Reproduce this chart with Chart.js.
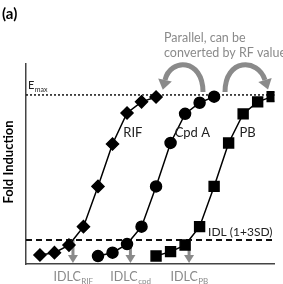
<!DOCTYPE html>
<html>
<head>
<meta charset="utf-8">
<script src="https://cdn.jsdelivr.net/npm/chart.js@4/dist/chart.umd.min.js"></script>
<style>
  html, body { margin: 0; padding: 0; background: #fff; }
  #wrap { position: relative; width: 283px; height: 284px; }
</style>
</head>
<body>
<div id="wrap"><canvas id="chart"></canvas></div>
<script>
// log-concentration steps (evenly spaced on the x axis)
const rifX = [0, 1, 2, 3, 4, 5, 6, 7, 8];
const cpdX = [4, 5, 6, 7, 8, 9, 10, 11, 12];
const pbX = [8, 9, 10, 11, 12, 13, 14, 15, 16];

// fold induction (Emax = 10)
const rifY = [0.53, 0.67, 1.12, 2.21, 4.59, 7.10, 8.93, 9.59, 9.88];
const cpdY = [0.47, 0.67, 1.18, 2.21, 4.59, 7.16, 8.88, 9.54, 9.90];
const pbY = [0.47, 0.73, 1.12, 2.21, 4.59, 7.16, 8.88, 9.59, 9.90];

const seriesNames = ['RIF', 'Cpd A', 'PB'];
const idlcSubs = ['RIF', 'cpd', 'PB'];
const emax = 10;
const idl = 1.42;

const FONT = 'Lato, "Open Sans", sans-serif';
const GREY = '#8a8a8a';

function pairs(xs, ys) {
  return xs.map((x, i) => ({ x, y: ys[i] }));
}

// where a series crosses the IDL line
function crossIdl(xs, ys) {
  for (let i = 1; i < ys.length; i++) {
    if (ys[i - 1] <= idl && ys[i] >= idl) {
      const f = (idl - ys[i - 1]) / (ys[i] - ys[i - 1]);
      return xs[i - 1] + f * (xs[i] - xs[i - 1]);
    }
  }
  return xs[0];
}

function subText(ctx, main, sub, x, y, size, subSize, align) {
  ctx.font = size + 'px ' + FONT;
  const w1 = ctx.measureText(main).width;
  ctx.font = subSize + 'px ' + FONT;
  const w2 = ctx.measureText(sub).width;
  let x0 = x;
  if (align === 'center') x0 = x - (w1 + w2) / 2;
  ctx.textAlign = 'left';
  ctx.textBaseline = 'alphabetic';
  ctx.font = size + 'px ' + FONT;
  ctx.fillText(main, x0, y);
  ctx.font = subSize + 'px ' + FONT;
  ctx.fillText(sub, x0 + w1 + 0.5, y + 3);
}

function curvedArrow(ctx, x0, y0, cx1, cy1, cx2, cy2, x1, y1) {
  ctx.save();
  ctx.strokeStyle = GREY;
  ctx.fillStyle = GREY;
  ctx.lineWidth = 5;
  ctx.lineCap = 'butt';
  ctx.beginPath();
  ctx.moveTo(x0, y0);
  ctx.bezierCurveTo(cx1, cy1, cx2, cy2, x1, y1);
  ctx.stroke();
  // head along the final tangent
  const a = Math.atan2(y1 - cy2, x1 - cx2);
  const len = 10, half = 7;
  const tx = x1 + Math.cos(a) * len, ty = y1 + Math.sin(a) * len;
  ctx.beginPath();
  ctx.moveTo(tx, ty);
  ctx.lineTo(x1 + Math.cos(a + Math.PI / 2) * half, y1 + Math.sin(a + Math.PI / 2) * half);
  ctx.lineTo(x1 - Math.cos(a + Math.PI / 2) * half, y1 - Math.sin(a + Math.PI / 2) * half);
  ctx.closePath();
  ctx.fill();
  ctx.restore();
}

const decorations = {
  id: 'decorations',
  beforeDatasetsDraw(chart) {
    const { ctx, chartArea: a, scales: { x, y } } = chart;
    ctx.save();
    // Emax dotted line
    const ye = y.getPixelForValue(emax);
    ctx.strokeStyle = '#111';
    ctx.lineWidth = 1.5;
    ctx.setLineDash([2, 2]);
    ctx.beginPath();
    ctx.moveTo(a.left, ye);
    ctx.lineTo(a.right, ye);
    ctx.stroke();
    // IDL dashed line
    const yi = y.getPixelForValue(idl);
    ctx.lineWidth = 2;
    ctx.setLineDash([6, 4]);
    ctx.beginPath();
    ctx.moveTo(a.left, yi);
    ctx.lineTo(a.right, yi);
    ctx.stroke();
    ctx.setLineDash([]);

    // grey drop arrows at the IDL crossings
    const crossings = [crossIdl(rifX, rifY), crossIdl(cpdX, cpdY), crossIdl(pbX, pbY)];
    ctx.strokeStyle = GREY;
    ctx.fillStyle = GREY;
    crossings.forEach(c => {
      const px = x.getPixelForValue(c);
      ctx.lineWidth = 3;
      ctx.beginPath();
      ctx.moveTo(px, yi);
      ctx.lineTo(px, a.bottom - 7);
      ctx.stroke();
      ctx.beginPath();
      ctx.moveTo(px - 5, a.bottom - 9);
      ctx.lineTo(px + 5, a.bottom - 9);
      ctx.lineTo(px, a.bottom - 1);
      ctx.closePath();
      ctx.fill();
    });
    ctx.restore();
  },
  afterDraw(chart) {
    const { ctx, chartArea: a, scales: { x, y } } = chart;
    ctx.save();
    // panel label
    ctx.fillStyle = '#000';
    ctx.font = 'bold 15px ' + FONT;
    ctx.textAlign = 'left';
    ctx.textBaseline = 'middle';
    ctx.fillText('(a)', 2, 14);

    // y title
    ctx.save();
    ctx.translate(9, 162);
    ctx.rotate(-Math.PI / 2);
    ctx.textAlign = 'center';
    ctx.font = 'bold 13px ' + FONT;
    ctx.fillText('Fold Induction', 0, 0);
    ctx.restore();

    // Emax label
    ctx.fillStyle = '#222';
    subText(ctx, 'E', 'max', a.left + 2, y.getPixelForValue(emax) - 6, 11, 7, 'left');

    // series names
    ctx.font = '13px ' + FONT;
    ctx.textAlign = 'center';
    ctx.textBaseline = 'middle';
    ctx.fillStyle = '#222';
    const nameX = [6.4, 10.5, 14.3];
    seriesNames.forEach((n, i) => {
      ctx.fillText(n, x.getPixelForValue(nameX[i]), 133);
    });

    // IDL label
    ctx.font = '12px ' + FONT;
    ctx.textAlign = 'right';
    ctx.textBaseline = 'alphabetic';
    ctx.fillText('IDL (1+3SD)', a.right - 2, y.getPixelForValue(idl) - 4);

    // IDLC labels
    ctx.fillStyle = GREY;
    const crossings = [crossIdl(rifX, rifY), crossIdl(cpdX, cpdY), crossIdl(pbX, pbY)];
    crossings.forEach((c, i) => {
      subText(ctx, 'IDLC', idlcSubs[i], x.getPixelForValue(c), 281, 12.5, 8, 'center');
    });

    // note text
    ctx.fillStyle = GREY;
    ctx.font = '12.5px ' + FONT;
    ctx.textAlign = 'left';
    ctx.textBaseline = 'middle';
    ctx.fillText('Parallel, can be', 164, 38);
    ctx.fillText('converted by RF value', 164, 53);

    // curved arrows
    curvedArrow(ctx, 203, 92, 203, 58, 170, 58, 165, 80);
    curvedArrow(ctx, 225, 92, 225, 58, 258, 58, 265, 80);
    ctx.restore();
  }
};

const lineStyle = { borderColor: '#000', backgroundColor: '#000', borderWidth: 1.5, showLine: true, tension: 0 };

new Chart(document.getElementById('chart'), {
  type: 'scatter',
  data: {
    datasets: [
      { label: 'RIF', data: pairs(rifX, rifY), pointStyle: 'rectRot', pointRadius: 6, ...lineStyle },
      { label: 'Cpd A', data: pairs(cpdX, cpdY), pointStyle: 'circle', pointRadius: 5.5, ...lineStyle },
      { label: 'PB', data: pairs(pbX, pbY), pointStyle: 'rect', pointRadius: 7, ...lineStyle }
    ]
  },
  options: {
    responsive: true,
    maintainAspectRatio: false,
    animation: false,
    layout: { padding: { left: 26, right: 7, top: 64, bottom: 20 } },
    plugins: { legend: { display: false }, tooltip: { enabled: false } },
    scales: {
      x: {
        type: 'linear', min: -0.96, max: 16.16,
        grid: { display: false, drawTicks: false },
        ticks: { display: false },
        border: { display: true, color: '#444', width: 1.5 }
      },
      y: {
        type: 'linear', min: 0, max: 11.83,
        grid: { display: false, drawTicks: false },
        ticks: { display: false },
        border: { display: true, color: '#444', width: 1.5 }
      }
    }
  },
  plugins: [decorations]
});
</script>
</body>
</html>
